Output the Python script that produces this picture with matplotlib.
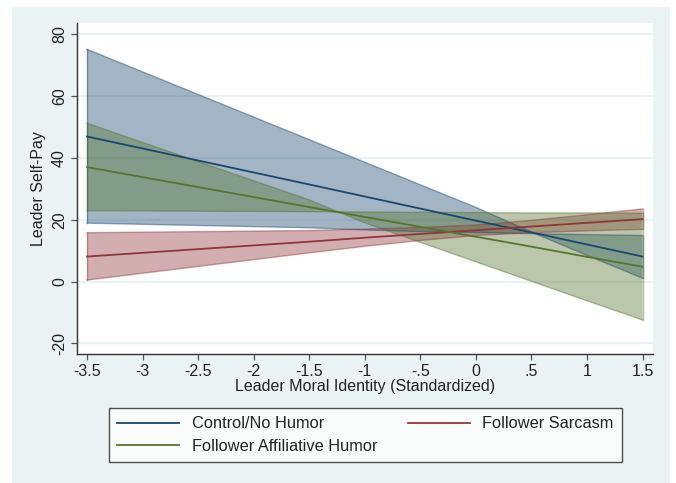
import numpy as np
import matplotlib
matplotlib.use("Agg")
import matplotlib.pyplot as plt
from matplotlib.patches import Rectangle

plt.rcParams.update({
    "font.family": ["Liberation Sans", "DejaVu Sans"],
    "font.size": 11,
})

# ── Data ────────────────────────────────────────────────────────────────────
moral_id = [-3.5, -1.5, -1.0, -0.5, 0.0, 0.5, 1.0, 1.5]

control_mean = [46.9, 31.4, 27.5, 23.6, 19.7, 15.9, 12.0, 8.1]
control_ci_a = [75.1, 45.9, 38.6, 31.3, 24.0, 16.0, 8.5, 1.1]
control_ci_b = [18.9, 17.4, 16.7, 16.2, 15.9, 15.5, 15.2, 14.9]

sarcasm_mean = [8.1, 12.9, 14.2, 15.4, 16.6, 17.8, 19.0, 20.2]
sarcasm_ci_a = [15.8, 16.5, 17.0, 17.5, 18.3, 19.8, 21.6, 23.5]
sarcasm_ci_b = [0.5, 9.3, 11.4, 13.3, 14.9, 15.8, 16.4, 16.9]

affil_mean = [37.0, 24.1, 20.9, 17.7, 14.5, 11.3, 8.0, 4.8]
affil_ci_a = [51.2, 26.4, 19.0, 12.7, 6.4, 0.1, -6.2, -12.4]
affil_ci_b = [22.9, 22.6, 22.5, 22.4, 22.3, 22.2, 22.2, 22.1]

x_ticks = [-3.5, -3, -2.5, -2, -1.5, -1, -0.5, 0, 0.5, 1, 1.5]
x_tick_labels = ["-3.5", "-3", "-2.5", "-2", "-1.5", "-1", "-.5", "0", ".5", "1", "1.5"]
y_ticks = [-20, 0, 20, 40, 60, 80]

# Stata s2color palette
NAVY = "#1a476f"
MAROON = "#90353b"
FOREST = "#55752f"
BG = "#eaf2f3"

# ── Figure ──────────────────────────────────────────────────────────────────
fig = plt.figure(figsize=(6.76, 4.83), dpi=100, facecolor="white")
fig.patches.append(Rectangle((12 / 676, 0), 658 / 676, 476 / 483,
                             transform=fig.transFigure, facecolor=BG,
                             edgecolor="none", zorder=-10))

ax = fig.add_axes([0.1135, 0.2671, 0.966 - 0.1135, 0.9524 - 0.2671])
ax.set_facecolor("white")

x = np.array(moral_id)
series = [
    (control_ci_a, control_ci_b, control_mean, NAVY, "Control/No Humor"),
    (sarcasm_ci_a, sarcasm_ci_b, sarcasm_mean, MAROON, "Follower Sarcasm"),
    (affil_ci_a, affil_ci_b, affil_mean, FOREST, "Follower Affiliative Humor"),
]

# confidence areas first, then the prediction lines
for ci_a, ci_b, _, col, _ in series:
    ax.fill_between(x, ci_a, ci_b, facecolor=col, alpha=0.4,
                    edgecolor="none", zorder=2)
    ax.plot(x, ci_a, color=col, lw=1.0, alpha=0.45, zorder=2.5)
    ax.plot(x, ci_b, color=col, lw=1.0, alpha=0.45, zorder=2.5)
    ax.plot([x[0], x[0]], [ci_a[0], ci_b[0]], color=col, lw=1.0, alpha=0.45, zorder=2.5)
    ax.plot([x[-1], x[-1]], [ci_a[-1], ci_b[-1]], color=col, lw=1.0, alpha=0.45, zorder=2.5)

handles = {}
for _, _, mean, col, lab in series:
    handles[lab], = ax.plot(x, mean, color=col, lw=1.3, zorder=3, label=lab)

ax.set_xlim(-3.593, 1.594)
ax.set_ylim(-23.4, 83.6)
ax.set_xticks(x_ticks)
ax.set_xticklabels(x_tick_labels)
ax.set_yticks(y_ticks)
ax.set_yticklabels([str(v) for v in y_ticks], rotation=90, va="center")

ax.grid(axis="y", color=BG, lw=1.6, zorder=0)
ax.set_axisbelow(True)
for s in ["top", "right"]:
    ax.spines[s].set_visible(False)
for s in ["left", "bottom"]:
    ax.spines[s].set_color("#333333")
    ax.spines[s].set_linewidth(1.0)
ax.tick_params(axis="both", direction="out", length=4, width=0.9,
               color="#555555", labelsize=11.5, labelcolor="#222222")
ax.tick_params(axis="x", pad=3)
ax.tick_params(axis="y", pad=3)

ax.set_xlabel("Leader Moral Identity (Standardized)", fontsize=11.5,
              color="#222222", labelpad=0)
ax.set_ylabel("Leader Self-Pay", fontsize=11.5, color="#222222", labelpad=4)

order = ["Control/No Humor", "Follower Affiliative Humor", "Follower Sarcasm"]
leg = fig.legend([handles[k] for k in order], order, ncol=2,
                 loc="lower left", mode="expand",
                 bbox_to_anchor=(109 / 676, 1 - 462 / 483, 513 / 676, 53 / 483),
                 bbox_transform=fig.transFigure,
                 fontsize=11.8, frameon=True, fancybox=False,
                 handlelength=3.8, handletextpad=0.75, labelspacing=0.45,
                 borderpad=0.5, borderaxespad=0)
leg.get_frame().set_edgecolor("#222222")
leg.get_frame().set_linewidth(1.0)
for t in leg.get_texts():
    t.set_color("#222222")

fig.savefig("out.png", dpi=100, facecolor="white")
plt.close(fig)
